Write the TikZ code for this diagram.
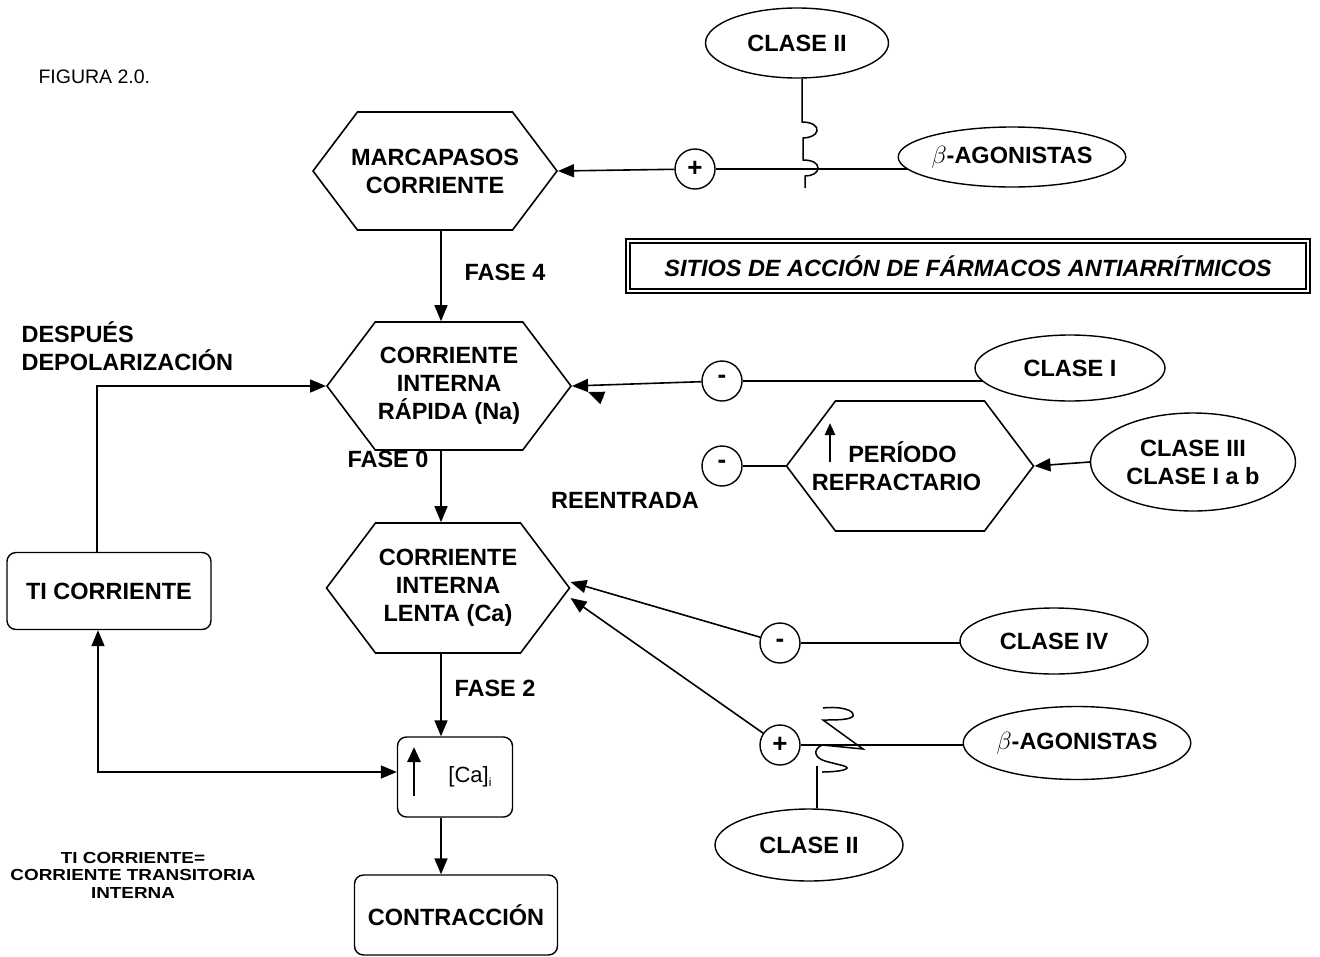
\documentclass[tikz,border=0pt]{standalone}
\usepackage{fontspec}
\setmainfont{Liberation Sans}
\newfontfamily\notefont[FakeStretch=1.18]{Liberation Sans}
\usetikzlibrary{shapes.geometric,shapes.symbols,arrows.meta,backgrounds,calc}
\newcommand{\zb}[1]{\makebox[0pt]{#1}}
\begin{document}
\begin{tikzpicture}[x=1pt,y=-1pt,
  lab/.style={font=\bfseries\fontsize{23.5}{28}\selectfont, align=center},
  hex/.style={lab, draw, fill=white, line width=1.6pt, signal, signal to=east and west, signal pointer angle=106, inner sep=0pt},
  ell/.style={lab, draw, fill=white, ellipse, line width=1.4pt, inner sep=0pt},
  sgn/.style={draw, fill=white, circle, minimum size=40pt, inner sep=0pt, line width=1.4pt, font=\bfseries\fontsize{26}{26}\selectfont},
  rbox/.style={lab, draw, fill=white, rounded corners=9pt, line width=1.4pt, inner sep=0pt},
  tip/.style={-{Triangle[length=16pt,width=13pt]}, line width=1.6pt},
  ln/.style={line width=1.5pt}
]
\useasboundingbox (0,0) rectangle (1320,956);

% hexagons
\node[hex, minimum width=244, minimum height=118] (marc) at (435,171) {\zb{MARCAPASOS}\\\zb{CORRIENTE}};
\node[hex, minimum width=244, minimum height=128] (rap) at (449,386) {\zb{CORRIENTE}\\\zb{INTERNA}\\\zb{RÁPIDA (Na)}};
\node[hex, minimum width=243, minimum height=130] (len) at (448,588) {\zb{CORRIENTE}\\\zb{INTERNA}\\\zb{LENTA (Ca)}};
\node[hex, minimum width=247, minimum height=130] (per) at (910,466) {\zb{PERÍODO\hspace*{15pt}}\\\zb{REFRACTARIO\hspace*{27pt}}};

% ellipses
\node[ell, minimum width=183, minimum height=70] (c2a) at (797,43) {CLASE II};
\node[ell, minimum width=218, minimum height=60] (ba1) at (1012,157) {$\beta$-AGONISTAS};
\node[ell, minimum width=190, minimum height=66] (c1) at (1070,368) {CLASE I};
\node[ell, minimum width=205, minimum height=98] (c3) at (1193,462) {CLASE III\\CLASE I a b};
\node[ell, minimum width=188, minimum height=66] (c4) at (1054,641) {CLASE IV};
\node[ell, minimum width=203, minimum height=73] (ba2) at (1077,743) {$\beta$-AGONISTAS};
\node[ell, minimum width=188, minimum height=72] (c2b) at (809,845) {CLASE II};

% sign circles
\node[sgn] (p1) at (695,169) {+};
\node[sgn] (m1) at (722,381) {\raisebox{3pt}{-}};
\node[sgn] (m2) at (722,466) {\raisebox{3pt}{-}};
\node[sgn] (m3) at (780,643) {\raisebox{-2pt}{-}};
\node[sgn] (p2) at (780,745) {+};

% boxes
\node[rbox, minimum width=204, minimum height=77] (ti) at (109,591) {TI CORRIENTE};
\node[rbox, minimum width=115, minimum height=80, font=\fontsize{22}{22}\selectfont] (ca) at (455,777) {\hspace*{30pt}\raisebox{-3pt}{[Ca]\raisebox{-4pt}{\fontsize{12}{12}\selectfont i}}};
\node[rbox, minimum width=203, minimum height=80] (con) at (456,915) {CONTRACCIÓN};

% title
\node[draw, double, double distance=2.5pt, line width=1.5pt, minimum width=680, minimum height=50,
      font=\bfseries\itshape\fontsize{23.5}{28}\selectfont] (tit) at (968,266) {SITIOS DE ACCIÓN DE FÁRMACOS ANTIARRÍTMICOS};

% labels
\node[anchor=west, font=\fontsize{19.5}{24}\selectfont] (fig) at (35,77) {FIGURA 2.0.};
\node[lab] (f4) at (505,272) {FASE 4};
\node[lab] (f0) at (388,459) {FASE 0};
\node[lab] (f2) at (495,688) {FASE 2};
\node[lab] (reen) at (625,500) {REENTRADA};
\node[lab, align=left, anchor=west] (desp) at (18,346) {DESPUÉS\\DEPOLARIZACIÓN};
\node[font=\notefont\bfseries\fontsize{16}{17.5}\selectfont, align=center] (note) at (133,875) {TI CORRIENTE=\\CORRIENTE TRANSITORIA\\INTERNA};

% arrows inside nodes
\draw[-{Triangle[length=15pt,width=13pt]}, line width=2.8pt] ([shift={(-41,19)}]ca.center) -- ([shift={(-41,-30)}]ca.center);
\draw[-{Triangle[length=12pt,width=10pt]}, line width=2.5pt] ([shift={(-80,-4)}]per.center) -- ([shift={(-80,-43)}]per.center);

\coordinate (axis) at (441,0);
\coordinate (rt1) at (603,398);
\coordinate (rt2) at (588,392);
\coordinate (sqTop) at (802,122);
\coordinate (sqEnd) at (817,766);

\begin{scope}[on background layer]
\fill[white] (0,0) rectangle (1320,956);
% main chain
\draw[tip] (marc.south -| axis) -- (rap.north -| axis);
\draw[tip] (rap.south -| axis) -- (len.north -| axis);
\draw[tip] (len.south -| axis) -- (ca.north -| axis);
\draw[tip] (ca.south -| axis) -- (con.north -| axis);
% feedback
\draw[tip] ([xshift=-12pt]ti.north) |- (rap.west);
\draw[{Triangle[length=16pt,width=13pt]}-{Triangle[length=16pt,width=13pt]}, line width=1.6pt] ([xshift=-11pt]ti.south) |- ([yshift=5pt]ca.west);
% top
\draw[ln] (p1) -- (p1 -| ba1);
\draw[tip] (p1) -- (marc.east);
\draw[ln] (sqTop |- c2a.south) -- (sqTop)
  .. controls (812,122) and (818,126) .. (817,131)
  .. controls (816,136) and (808,138) .. (803,138) -- (803,160)
  .. controls (812,160) and (818,163) .. (818,168)
  .. controls (818,173) and (812,176) .. (805,176) -- (805,188);
% clase I
\draw[ln] (m1) -- (m1 -| c1);
\draw[tip] (m1) -- (rap.east);
\draw[tip] (rt1) -- (rt2);
% reentrada
\draw[ln] (m2) -- (per.west);
\draw[tip] (c3.west) -- (per.east);
% clase IV
\draw[ln] (m3) -- (m3 -| c4);
\draw[tip] (m3) -- ([yshift=6pt]len.east);
% beta bottom
\draw[tip] (p2) -- ([yshift=-10pt]len.east);
\draw[ln] (p2) -- (p2 -| ba2);
\draw[ln] (823,708) .. controls (840,706) and (855,710) .. (853,716)
  .. controls (851,720) and (835,720) .. (823,720) -- (863,749) -- (822,745)
  .. controls (812,750) and (815,758) .. (825,761)
  .. controls (835,764) and (848,766) .. (847,768)
  .. controls (846,771) and (830,772) .. (822,772);
\draw[ln] (sqEnd |- c2b.north) -- (sqEnd);
\end{scope}
\end{tikzpicture}
\end{document}
